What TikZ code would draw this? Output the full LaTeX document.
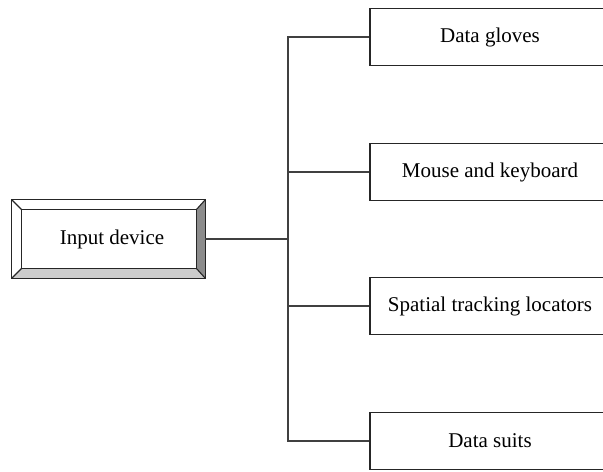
\documentclass[tikz,border=0pt]{standalone}
\usepackage{fontspec}
\setmainfont{Liberation Serif}
\begin{document}
\begin{tikzpicture}[x=1bp,y=-1bp,
  every node/.style={font=\fontsize{21bp}{24bp}\selectfont},
  itembox/.style={draw=black!85,line width=1.3bp,rectangle,minimum width=240bp,minimum height=57bp,inner sep=0pt,anchor=center},
  link/.style={draw=black!75,line width=1.3bp},
  bevelline/.style={draw=black!85,line width=1.1bp}]
\useasboundingbox (0,0) rectangle (603,472);
\clip (0,0) rectangle (603,472);

% raised input box: outer frame and inner face
\node[rectangle,minimum width=193bp,minimum height=78bp,inner sep=0pt] (input) at (108.5,239) {};
\node[rectangle,minimum width=174bp,minimum height=58bp,inner sep=0pt] (face) at (109,239) {};
% bevel faces
\fill[white] (input.north west) -- (input.north east) -- (face.north east) -- (face.north west) -- cycle;
\fill[white] (input.north west) -- (face.north west) -- (face.south west) -- (input.south west) -- cycle;
\fill[black!20] (input.south west) -- (face.south west) -- (face.south east) -- (input.south east) -- cycle;
\fill[black!45] (input.north east) -- (input.south east) -- (face.south east) -- (face.north east) -- cycle;
\draw[bevelline] (input.north west) rectangle (input.south east);
\draw[bevelline] (face.north west) rectangle (face.south east);
\draw[bevelline] (input.north west) -- (face.north west);
\draw[bevelline] (input.north east) -- (face.north east);
\draw[bevelline] (input.south west) -- (face.south west);
\draw[bevelline] (input.south east) -- (face.south east);
\node at ([xshift=3bp]face.center) {Input device};

% branch boxes
\node[itembox] (b1) at (490,37) {Data gloves};
\node[itembox] (b2) at (490,172) {Mouse and keyboard};
\node[itembox] (b3) at (490,306) {Spatial tracking locators};
\node[itembox] (b4) at (490,441) {Data suits};

% tree connectors
\coordinate (hub) at (288,239);
\draw[link] (input.east) -- (hub);
\draw[link] (b1.west) -| (hub);
\draw[link] (b4.west) -| (hub);
\draw[link] (b2.west) -- (b2.west -| hub);
\draw[link] (b3.west) -- (b3.west -| hub);
\end{tikzpicture}
\end{document}
